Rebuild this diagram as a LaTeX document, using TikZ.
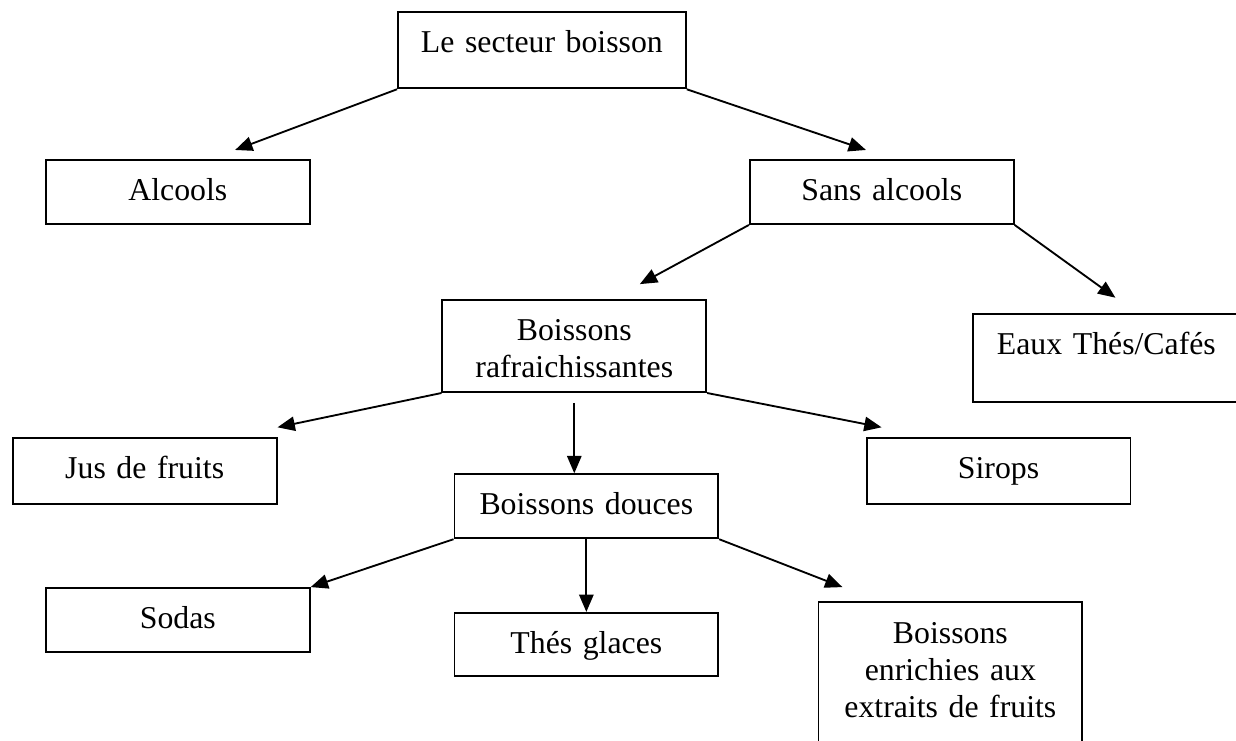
\documentclass[tikz,border=0pt]{standalone}
\usepackage{fontspec}
\setmainfont{Liberation Serif}
\usetikzlibrary{arrows.meta,positioning,calc}
\tikzset{
  boite/.style={draw=black, line width=0.7pt, anchor=north, inner xsep=0pt, inner ysep=0pt,
                text width=3.5cm, align=center, text height=0.54cm,
                font=\fontsize{12}{14}\selectfont},
  fleche/.style={-{Triangle[length=2.3mm, width=1.9mm]}, line width=0.7pt}}
\begin{document}
\begin{tikzpicture}
    \useasboundingbox (0,0) rectangle (16.40,-9.82);
    \clip (0,0) rectangle (16.40,-9.82);
    \node[boite, text width=3.82cm, text depth=0.47cm] (sect) at (7.19,-0.15) {Le secteur boisson};
    \node[boite, text depth=0.31cm] (alc)  at (2.36,-2.11)  {Alcools};
    \node[boite, text depth=0.31cm] (sans) at (11.70,-2.11) {Sans alcools};
    \node[boite, text depth=0.68cm] (rafr) at (7.62,-3.97)  {Boissons\\rafraichissantes};
    \node[boite, text width=3.55cm, text depth=0.63cm] (eaux) at (14.68,-4.15) {Eaux Thés/Cafés};
    \node[boite, text depth=0.33cm] (jus)    at (1.92,-5.80)  {Jus de fruits};
    \node[boite, text depth=0.33cm] (sirops) at (13.25,-5.80) {Sirops};
    \node[boite, text depth=0.31cm] (douces) at (7.78,-6.28)  {Boissons douces};
    \node[boite, text depth=0.31cm] (sodas)  at (2.36,-7.79)  {Sodas};
    \node[boite, text depth=0.30cm] (theg)   at (7.78,-8.12)  {Thés glaces};
    \node[boite, text depth=1.60cm] (enrich) at (12.61,-7.98) {Boissons\\enrichies aux\\extraits de fruits};
    \draw[fleche] (sect.south west) -- ([shift={(0.76,0.12)}]alc.north);
    \draw[fleche] (sect.south east) -- ([shift={(-0.21,0.12)}]sans.north);
    \draw[fleche] (sans.south west) -- ([shift={(0.87,0.20)}]rafr.north);
    \draw[fleche] (sans.south east) -- ([shift={(0.12,0.20)}]eaux.north);
    \draw[fleche] (rafr.south west) -- ([yshift=0.13cm]jus.north east);
    \draw[fleche] ([yshift=-0.13cm]rafr.south) -- (rafr.south |- douces.north);
    \draw[fleche] (rafr.south east) -- ([shift={(0.21,0.13)}]sirops.north west);
    \draw[fleche] (douces.south west) -- (sodas.north east);
    \draw[fleche] (douces.south) -- (theg.north);
    \draw[fleche] (douces.south east) -- ([shift={(0.33,0.19)}]enrich.north west);
\end{tikzpicture}
\end{document}
